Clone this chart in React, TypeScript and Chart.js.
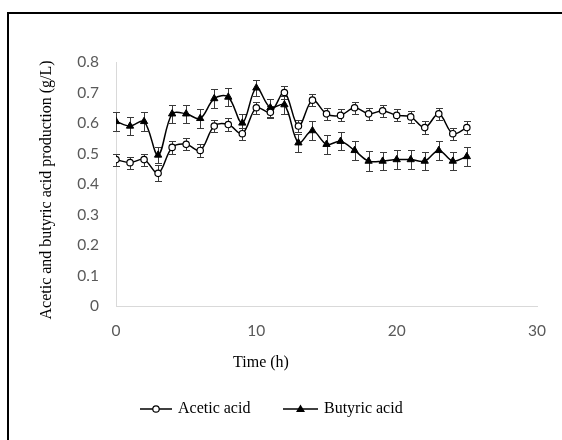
import { useEffect, useRef } from 'react';
import { Chart, registerables } from 'chart.js';

Chart.register(...registerables);

const hours = [0, 1, 2, 3, 4, 5, 6, 7, 8, 9, 10, 11, 12, 13, 14, 15, 16, 17, 18, 19, 20, 21, 22, 23, 24, 25];
const aceticAcid = [0.48, 0.47, 0.48, 0.435, 0.52, 0.53, 0.51, 0.59, 0.595, 0.565, 0.65, 0.635, 0.7, 0.59, 0.675, 0.63, 0.625, 0.65, 0.63, 0.64, 0.625, 0.62, 0.585, 0.63, 0.565, 0.585];
const aceticError = [0.02, 0.02, 0.02, 0.026, 0.02, 0.02, 0.02, 0.02, 0.02, 0.02, 0.02, 0.02, 0.02, 0.02, 0.02, 0.02, 0.02, 0.02, 0.02, 0.02, 0.02, 0.02, 0.02, 0.02, 0.02, 0.02];
const butyricAcid = [0.605, 0.59, 0.605, 0.495, 0.63, 0.63, 0.615, 0.68, 0.685, 0.6, 0.715, 0.65, 0.66, 0.535, 0.575, 0.53, 0.54, 0.51, 0.475, 0.475, 0.48, 0.48, 0.475, 0.51, 0.475, 0.49];
const butyricError = [0.03, 0.03, 0.03, 0.026, 0.03, 0.03, 0.03, 0.03, 0.03, 0.03, 0.027, 0.03, 0.03, 0.03, 0.03, 0.03, 0.03, 0.03, 0.033, 0.03, 0.03, 0.03, 0.03, 0.03, 0.03, 0.03];
const seriesLabels = ['Acetic acid', 'Butyric acid'];
const xTitle = 'Time (h)';
const yTitle = 'Acetic and butyric acid production (g/L)';

const tickFont = { family: 'Lato, "Open Sans", sans-serif', size: 15.5 };
const serif = '"Liberation Serif", "DejaVu Serif", serif';

const decorPlugin = {
  id: 'decor',
  beforeDatasetsDraw(chart: any) {
    const { ctx, scales } = chart;
    const x = scales.x;
    const y = scales.y;
    ctx.save();
    ctx.strokeStyle = '#3a3a3a';
    ctx.lineWidth = 1;
    const sets: [number[], number[]][] = [
      [aceticAcid, aceticError],
      [butyricAcid, butyricError],
    ];
    sets.forEach(([vals, errs]) => {
      vals.forEach((v, i) => {
        const px = Math.round(x.getPixelForValue(hours[i])) + 0.5;
        const top = Math.round(y.getPixelForValue(v + errs[i])) + 0.5;
        const bot = Math.round(y.getPixelForValue(v - errs[i])) + 0.5;
        ctx.beginPath();
        ctx.moveTo(px, top);
        ctx.lineTo(px, bot);
        ctx.moveTo(px - 3.5, top);
        ctx.lineTo(px + 3.5, top);
        ctx.moveTo(px - 3.5, bot);
        ctx.lineTo(px + 3.5, bot);
        ctx.stroke();
      });
    });
    ctx.restore();
  },
  afterDraw(chart: any) {
    const { ctx } = chart;
    ctx.save();
    // outer border
    ctx.strokeStyle = '#000';
    ctx.lineWidth = 2;
    ctx.beginPath();
    ctx.moveTo(8, 600);
    ctx.lineTo(8, 13);
    ctx.lineTo(700, 13);
    ctx.stroke();

    // axis titles
    ctx.fillStyle = '#000';
    ctx.font = `16px ${serif}`;
    ctx.textAlign = 'center';
    ctx.textBaseline = 'middle';
    ctx.fillText(xTitle, 261, 363);
    ctx.save();
    ctx.translate(47, 190);
    ctx.rotate(-Math.PI / 2);
    ctx.fillText(yTitle, 0, 0);
    ctx.restore();

    // legend
    const ly = 409;
    ctx.lineWidth = 1.5;
    ctx.strokeStyle = '#000';
    ctx.textAlign = 'left';
    const items = [
      { x1: 140, x2: 172, tx: 178, label: seriesLabels[0], tri: false },
      { x1: 283, x2: 318, tx: 324, label: seriesLabels[1], tri: true },
    ];
    items.forEach((it) => {
      ctx.beginPath();
      ctx.moveTo(it.x1, ly);
      ctx.lineTo(it.x2, ly);
      ctx.stroke();
      const cx = (it.x1 + it.x2) / 2;
      if (it.tri) {
        ctx.fillStyle = '#000';
        ctx.beginPath();
        ctx.moveTo(cx, ly - 4.5);
        ctx.lineTo(cx + 4.5, ly + 3);
        ctx.lineTo(cx - 4.5, ly + 3);
        ctx.closePath();
        ctx.fill();
      } else {
        ctx.fillStyle = '#fff';
        ctx.lineWidth = 1.2;
        ctx.beginPath();
        ctx.arc(cx, ly, 3.2, 0, Math.PI * 2);
        ctx.fill();
        ctx.stroke();
        ctx.lineWidth = 1.5;
      }
      ctx.fillStyle = '#000';
      ctx.fillText(it.label, it.tx, ly);
    });
    ctx.restore();
  },
};

export default function App() {
  const ref = useRef<HTMLCanvasElement>(null);
  useEffect(() => {
    const chart = new Chart(ref.current!, {
      type: 'line',
      data: {
        datasets: [
          {
            label: seriesLabels[0],
            data: hours.map((h, i) => ({ x: h, y: aceticAcid[i] })),
            borderColor: '#000',
            borderWidth: 1.5,
            backgroundColor: '#fff',
            pointBackgroundColor: '#fff',
            pointBorderColor: '#000',
            pointBorderWidth: 1.2,
            pointRadius: 3.2,
            pointStyle: 'circle',
            tension: 0.35,
          },
          {
            label: seriesLabels[1],
            data: hours.map((h, i) => ({ x: h, y: butyricAcid[i] })),
            borderColor: '#000',
            borderWidth: 1.5,
            backgroundColor: '#000',
            pointBackgroundColor: '#000',
            pointBorderColor: '#000',
            pointBorderWidth: 1,
            pointRadius: 4.2,
            pointStyle: 'triangle',
            tension: 0.35,
          },
        ],
      },
      options: {
        responsive: false,
        animation: false,
        layout: { padding: { left: 0, top: 62, right: 25, bottom: 0 } },
        plugins: { legend: { display: false }, tooltip: { enabled: false } },
        scales: {
          x: {
            type: 'linear',
            min: 0,
            max: 30,
            ticks: { stepSize: 10, color: '#595959', font: tickFont, padding: 16 },
            grid: { display: false, drawTicks: false },
            border: { color: '#d9d9d9', width: 1 },
            afterFit: (s: any) => {
              s.height = 134;
            },
          },
          y: {
            min: 0,
            max: 0.8,
            ticks: { stepSize: 0.1, color: '#595959', font: tickFont, padding: 17 },
            grid: { display: false, drawTicks: false },
            border: { color: '#d9d9d9', width: 1 },
            afterFit: (s: any) => {
              s.width = 116;
            },
          },
        },
      },
      plugins: [decorPlugin],
    });
    return () => chart.destroy();
  }, []);
  return (
    <div style={{ position: 'fixed', left: 0, top: 0, width: 562, height: 440, background: '#fff' }}>
      <canvas ref={ref} width={562} height={440} style={{ width: 562, height: 440 }} />
    </div>
  );
}
